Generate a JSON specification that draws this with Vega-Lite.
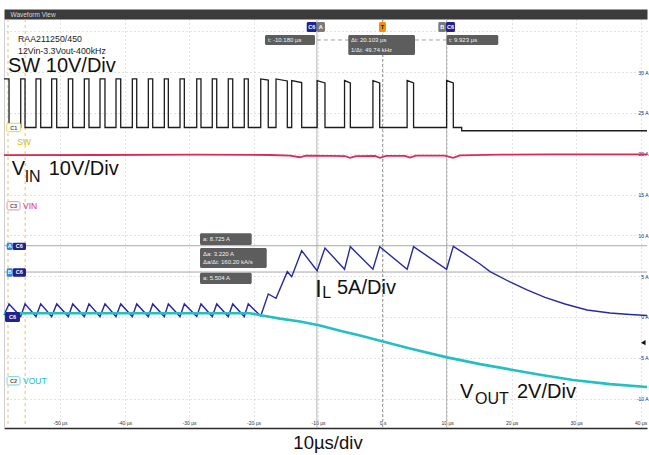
{
"$schema": "https://vega.github.io/schema/vega-lite/v6.json",
"width": 643, "height": 409,
"autosize": {"type": "none"},
"padding": {"left": 4, "top": 19, "right": 2, "bottom": 27},
"background": "white",
"config": {"view": {"stroke": null}, "font": "Liberation Sans"},
"datasets": {
"sw": [
{"t":-58.68,"v":11.9},{"t":-57.90,"v":11.9},{"t":-57.90,"v":0},
{"t":-56.09,"v":0},{"t":-56.09,"v":11.9},{"t":-55.42,"v":11.9},{"t":-55.42,"v":0},
{"t":-53.72,"v":0},{"t":-53.72,"v":11.9},{"t":-52.99,"v":11.9},{"t":-52.99,"v":0},
{"t":-51.29,"v":0},{"t":-51.29,"v":11.9},{"t":-50.51,"v":11.9},{"t":-50.51,"v":0},
{"t":-48.71,"v":0},{"t":-48.71,"v":11.9},{"t":-48.03,"v":11.9},{"t":-48.03,"v":0},
{"t":-46.23,"v":0},{"t":-46.23,"v":11.9},{"t":-45.51,"v":11.9},{"t":-45.51,"v":0},
{"t":-43.80,"v":0},{"t":-43.80,"v":11.9},{"t":-43.03,"v":11.9},{"t":-43.03,"v":0},
{"t":-41.32,"v":0},{"t":-41.32,"v":11.9},{"t":-40.59,"v":11.9},{"t":-40.59,"v":0},
{"t":-38.79,"v":0},{"t":-38.79,"v":11.9},{"t":-38.11,"v":11.9},{"t":-38.11,"v":0},
{"t":-36.31,"v":0},{"t":-36.31,"v":11.9},{"t":-35.63,"v":11.9},{"t":-35.63,"v":0},
{"t":-33.83,"v":0},{"t":-33.83,"v":11.9},{"t":-33.21,"v":11.9},{"t":-33.21,"v":0},
{"t":-31.40,"v":0},{"t":-31.40,"v":11.9},{"t":-30.73,"v":11.9},{"t":-30.73,"v":0},
{"t":-28.81,"v":0},{"t":-28.81,"v":11.9},{"t":-28.15,"v":11.9},{"t":-28.15,"v":0},
{"t":-26.40,"v":0},{"t":-26.40,"v":11.9},{"t":-25.71,"v":11.9},{"t":-25.71,"v":0},
{"t":-23.92,"v":0},{"t":-23.92,"v":11.9},{"t":-23.23,"v":11.9},{"t":-23.23,"v":0},
{"t":-21.44,"v":0},{"t":-21.44,"v":11.9},{"t":-20.82,"v":11.9},{"t":-20.82,"v":0},
{"t":-18.89,"v":0},{"t":-18.89,"v":11.9},{"t":-17.72,"v":11.6},{"t":-17.72,"v":0},
{"t":-16.52,"v":0},{"t":-16.52,"v":11.9},{"t":-14.77,"v":11.4},{"t":-14.77,"v":0},
{"t":-14.09,"v":0},{"t":-14.09,"v":11.5},{"t":-12.54,"v":11.0},{"t":-12.54,"v":0},
{"t":-10.15,"v":0},{"t":-10.15,"v":11.5},{"t":-8.93,"v":10.9},{"t":-8.93,"v":0},
{"t":-5.90,"v":0},{"t":-5.90,"v":11.5},{"t":-5.00,"v":10.9},{"t":-5.00,"v":0},
{"t":-1.50,"v":0},{"t":-1.50,"v":11.5},{"t":-0.45,"v":10.9},{"t":-0.45,"v":0},
{"t":3.80,"v":0},{"t":3.80,"v":11.5},{"t":4.80,"v":10.9},{"t":4.80,"v":0},
{"t":9.92,"v":0},{"t":9.92,"v":11.5},{"t":10.96,"v":10.9},{"t":10.96,"v":0},
{"t":12.26,"v":0},{"t":12.26,"v":-0.8},{"t":40.98,"v":-0.8}
],
"il": [
{"t":-58.68,"a":0.25},{"t":-57.90,"a":1.6},{"t":-56.09,"a":0.05},{"t":-55.42,"a":1.6},
{"t":-53.72,"a":0.05},{"t":-52.99,"a":1.6},{"t":-51.29,"a":0.05},{"t":-50.51,"a":1.6},
{"t":-48.71,"a":0.05},{"t":-48.03,"a":1.6},{"t":-46.23,"a":0.05},{"t":-45.51,"a":1.6},
{"t":-43.80,"a":0.05},{"t":-43.03,"a":1.6},{"t":-41.32,"a":0.05},{"t":-40.59,"a":1.6},
{"t":-38.79,"a":0.05},{"t":-38.11,"a":1.6},{"t":-36.31,"a":0.05},{"t":-35.63,"a":1.6},
{"t":-33.83,"a":0.05},{"t":-33.21,"a":1.6},{"t":-31.40,"a":0.05},{"t":-30.73,"a":1.6},
{"t":-28.81,"a":0.05},{"t":-28.15,"a":1.6},{"t":-26.40,"a":0.05},{"t":-25.71,"a":1.6},
{"t":-23.92,"a":0.05},{"t":-23.23,"a":1.6},{"t":-21.44,"a":0.05},{"t":-20.82,"a":1.6},
{"t":-18.89,"a":0.12},{"t":-17.72,"a":2.82},{"t":-16.52,"a":2.29},{"t":-14.77,"a":5.55},
{"t":-14.09,"a":4.94},{"t":-12.54,"a":8.12},{"t":-10.15,"a":5.67},{"t":-8.93,"a":8.45},
{"t":-5.90,"a":5.84},{"t":-5.00,"a":8.61},{"t":-1.50,"a":5.84},{"t":-0.45,"a":8.61},
{"t":3.80,"a":5.84},{"t":4.80,"a":8.61},{"t":9.92,"a":5.84},{"t":10.96,"a":8.65},
{"t":12.77,"a":7.72},{"t":15.10,"a":6.49},{"t":16.65,"a":5.55},{"t":19.75,"a":4.29},
{"t":22.38,"a":3.31},{"t":25.17,"a":2.39},{"t":28.27,"a":1.59},{"t":31.68,"a":0.86},
{"t":35.25,"a":0.49},{"t":38.35,"a":0.31},{"t":40.98,"a":0.18}
],
"vin": [
{"t":-58.68,"v":11.95},{"t":-43.80,"v":12.0},{"t":-28.89,"v":12.1},{"t":-20.55,"v":12.05},
{"t":-17.45,"v":12.0},{"t":-14.35,"v":11.85},{"t":-12.84,"v":11.45},{"t":-11.87,"v":11.85},
{"t":-8.15,"v":11.8},{"t":-5.83,"v":11.75},{"t":-5.05,"v":11.3},{"t":-4.12,"v":11.75},
{"t":-1.18,"v":11.8},{"t":-0.40,"v":11.3},{"t":0.53,"v":11.8},{"t":3.47,"v":11.8},
{"t":4.24,"v":11.35},{"t":5.18,"v":11.85},{"t":9.67,"v":11.85},{"t":10.91,"v":11.3},
{"t":12.0,"v":11.9},{"t":18.2,"v":12.1},{"t":25.95,"v":12.15},{"t":40.98,"v":12.15}
],
"vout": [
{"t":-58.68,"v":3.30},{"t":-20.55,"v":3.30},{"t":-18.69,"v":3.19},{"t":-15.90,"v":3.04},
{"t":-12.80,"v":2.90},{"t":-9.70,"v":2.70},{"t":-6.60,"v":2.45},{"t":-3.50,"v":2.21},
{"t":0.06,"v":1.92},{"t":4.25,"v":1.57},{"t":9.98,"v":1.14},{"t":15.10,"v":0.81},
{"t":19.75,"v":0.55},{"t":24.40,"v":0.29},{"t":29.51,"v":0.03},{"t":35.25,"v":-0.17},
{"t":40.98,"v":-0.31}
],
"boxes": [
{"t":-18.23,"t2":-10.48,"a":34.54,"a2":33.32,"kind":"readout"},
{"t":-5.32,"t2":5.02,"a":34.54,"a2":32.09,"kind":"readout"},
{"t":9.93,"t2":17.93,"a":34.54,"a2":33.32,"kind":"readout"},
{"t":-28.30,"t2":-20.29,"a":10.25,"a2":8.82,"kind":"readout"},
{"t":-28.30,"t2":-17.96,"a":8.45,"a2":6.0,"kind":"readout"},
{"t":-28.30,"t2":-20.29,"a":5.43,"a2":4.04,"kind":"readout"},
{"t":-11.76,"t2":-10.21,"a":36.13,"a2":34.91,"kind":"c6"},
{"t":9.83,"t2":11.22,"a":36.13,"a2":34.91,"kind":"c6"},
{"t":-57.33,"t2":-55.27,"a":9.10,"a2":8.21,"kind":"c6"},
{"t":-57.33,"t2":-55.27,"a":5.97,"a2":4.94,"kind":"c6"},
{"t":-58.52,"t2":-56.2,"a":0.61,"a2":-0.61,"kind":"c6"},
{"t":-10.21,"t2":-8.93,"a":36.13,"a2":34.91,"kind":"tag"},
{"t":8.63,"t2":9.83,"a":36.13,"a2":34.91,"kind":"tag"},
{"t":-58.26,"t2":-57.33,"a":9.10,"a2":8.21,"kind":"ab"},
{"t":-58.26,"t2":-57.33,"a":5.97,"a2":4.94,"kind":"ab"},
{"t":-0.56,"t2":0.53,"a":36.13,"a2":34.91,"kind":"trig"}
],
"outline": [
{"t":-58.26,"t2":-56.09,"a":23.73,"a2":22.70,"ch":"SW"},
{"t":-58.21,"t2":-56.2,"a":14.12,"a2":13.11,"ch":"VIN"},
{"t":-58.21,"t2":-56.2,"a":-7.31,"a2":-8.33,"ch":"VOUT"}
],
"tagtext": [
{"t":-10.985,"a":35.52,"label":"C6","kind":"c6"},
{"t":-9.57,"a":35.52,"label":"A","kind":"tag"},
{"t":9.23,"a":35.52,"label":"B","kind":"tag"},
{"t":10.525,"a":35.52,"label":"C6","kind":"c6"},
{"t":-0.015,"a":35.52,"label":"T","kind":"trig"},
{"t":-57.795,"a":8.655,"label":"A","kind":"ab"},
{"t":-56.3,"a":8.655,"label":"C6","kind":"c6"},
{"t":-57.795,"a":5.455,"label":"B","kind":"ab"},
{"t":-56.3,"a":5.455,"label":"C6","kind":"c6"},
{"t":-57.36,"a":0,"label":"C6","kind":"c6"},
{"t":-57.17,"a":23.2,"label":"C1","kind":"outline"},
{"t":-57.2,"a":13.6,"label":"C3","kind":"outline"},
{"t":-57.2,"a":-7.82,"label":"C2","kind":"outline"}
],
"readtext": [
{"t":-17.76,"a":33.93,"label":"t: -10.180 µs"},
{"t":-4.90,"a":33.87,"label":"Δt: 20.103 µs"},
{"t":-4.90,"a":32.70,"label":"1/Δt: 49.74 kHz"},
{"t":10.29,"a":33.93,"label":"t: 9.923 µs"},
{"t":-27.84,"a":9.55,"label":"a: 8.725 A"},
{"t":-27.84,"a":7.72,"label":"Δa: 3.220 A"},
{"t":-27.84,"a":6.74,"label":"Δa/Δt: 160.20 kA/s"},
{"t":-27.84,"a":4.72,"label":"a: 5.504 A"}
],
"big": [
{"t":-58.06,"a":29.98,"label":"SW 10V/Div"},
{"t":-57.49,"a":17.39,"label":"V"},
{"t":-51.75,"a":17.39,"label":"10V/Div"},
{"t":-7.07,"a":2.82,"label":"5A/Div"},
{"t":12.0,"a":-9.92,"label":"V"},
{"t":20.83,"a":-9.92,"label":"2V/Div"}
],
"bigI": [{"t":-10.43,"a":2.49,"label":"I"}],
"sub": [
{"t":-55.48,"a":16.57,"label":"IN"},
{"t":14.32,"a":-10.66,"label":"OUT"},
{"t":-9.35,"a":2.33,"label":"L"}
],
"hdr": [
{"t":-56.51,"a":33.64,"label":"RAA211250/450"},
{"t":-56.51,"a":32.26,"label":"12Vin-3.3Vout-400kHz"}
],
"chname": [
{"t":-56.62,"a":21.07,"label":"SW","ch":"SW"},
{"t":-55.73,"a":13.17,"label":"VIN","ch":"VIN"},
{"t":-55.73,"a":-8.27,"label":"VOUT","ch":"VOUT"}
]
},
"resolve": {"scale": {"y": "independent", "color": "independent", "fill": "independent", "stroke": "independent"}, "axis": {"x": "independent", "y": "independent"}},
"layer": [
{"data": {"values": [{"t": -58.06}, {"t": -55.4}]},
 "mark": {"type": "rule", "color": "#f0c445", "strokeWidth": 1, "strokeDash": [3, 3]},
 "encoding": {"x": {"field": "t", "type": "quantitative", "scale": {"domain": [-58.68, 40.98], "nice": false, "zero": false}, "axis": null}}},
{"data": {"values": [{"t": -10.18}, {"t": 9.923}]},
 "mark": {"type": "rule", "color": "#b4b4b4", "strokeWidth": 1},
 "encoding": {"x": {"field": "t", "type": "quantitative", "scale": {"domain": [-58.68, 40.98], "nice": false, "zero": false}, "axis": null}}},
{"data": {"values": [{"t": 0}]},
 "mark": {"type": "rule", "color": "#9a9a9a", "strokeWidth": 1, "strokeDash": [3, 2]},
 "encoding": {"x": {"field": "t", "type": "quantitative", "scale": {"domain": [-58.68, 40.98], "nice": false, "zero": false}, "axis": null}}},
{"data": {"values": [{"a": 8.725}, {"a": 5.504}]},
 "mark": {"type": "rule", "color": "#a8a8a8", "strokeWidth": 1},
 "encoding": {"y": {"field": "a", "type": "quantitative", "scale": {"domain": [-13.6, 36.5], "nice": false, "zero": false}, "axis": null}}},
{"data": {"values": [{"t": -10.18, "t2": 9.923, "a": 33.93}]},
 "mark": {"type": "rule", "color": "#a0a0a0", "strokeWidth": 1, "strokeDash": [4, 3]},
 "encoding": {"x": {"field": "t", "type": "quantitative", "scale": {"domain": [-58.68, 40.98], "nice": false, "zero": false}, "axis": null},
  "x2": {"field": "t2"},
  "y": {"field": "a", "type": "quantitative", "scale": {"domain": [-13.6, 36.5], "nice": false, "zero": false}, "axis": null}}},
{"data": {"name": "sw"},
 "mark": {"type": "line", "color": "#1c1c1c", "strokeWidth": 1.3},
 "encoding": {"x": {"field": "t", "type": "quantitative", "scale": {"domain": [-58.68, 40.98], "nice": false, "zero": false}, "axis": null},
  "y": {"field": "v", "type": "quantitative", "scale": {"domain": [-73.62, 26.58], "nice": false, "zero": false},
   "axis": {"orient": "left", "domain": true, "domainColor": "#cfcfcf", "domainWidth": 1, "labels": false, "ticks": false, "grid": false, "title": null}},
  "order": {"value": null}}},
{"data": {"name": "vin"},
 "mark": {"type": "line", "color": "#dd2a55", "strokeWidth": 1.8},
 "encoding": {"x": {"field": "t", "type": "quantitative", "scale": {"domain": [-58.68, 40.98], "nice": false, "zero": false},
   "axis": {"orient": "top", "offset": 5, "domain": true, "domainWidth": 10, "domainColor": "#3b3b3b", "labels": false, "ticks": false, "grid": false,
    "title": "Waveform View", "titleFontSize": 6.5, "titleFontWeight": "normal", "titleColor": "#d8d8d8", "titleAnchor": "start", "titleAlign": "left", "titleX": 6, "titleY": 2.5, "titleBaseline": "alphabetic", "titlePadding": 0}},
  "y": {"field": "v", "type": "quantitative", "scale": {"domain": [-54.88, 45.32], "nice": false, "zero": false}, "axis": null}}},
{"data": {"name": "il"},
 "mark": {"type": "line", "color": "#2a2aa0", "strokeWidth": 1.4},
 "encoding": {"x": {"field": "t", "type": "quantitative", "scale": {"domain": [-58.68, 40.98], "nice": false, "zero": false},
   "axis": {"orient": "bottom", "values": [-50, -40, -30, -20, -10, 0, 10, 20, 30, 40],
    "labelExpr": "datum.value == 0 ? '0 s' : datum.value + ' µs'", "labelFontSize": 5, "labelColor": "#333333", "labelPadding": -8, "labelFlush": false,
    "ticks": false, "tickSize": 0, "domain": true, "domainColor": "#2b2b2b", "domainWidth": 1.5,
    "grid": true, "gridColor": "#c4c4c4", "gridDash": [1, 3], "gridWidth": 1,
    "title": "10µs/div", "titleFontSize": 18.5, "titleFontWeight": "normal", "titleColor": "#111111", "titleFont": "Liberation Sans",
    "titleAlign": "center", "titleAnchor": "start", "titleX": 323.5, "titleY": 20, "titleBaseline": "alphabetic"}},
  "y": {"field": "a", "type": "quantitative", "scale": {"domain": [-13.6, 36.5], "nice": false, "zero": false},
   "axis": {"orient": "right", "values": [-10, -5, 0, 5, 10, 15, 20, 25, 30, 35],
    "labelExpr": "datum.value == 35 ? '' : datum.value + ' A'", "labelFontSize": 5, "labelColor": "#2a2a6a", "labelAlign": "right", "labelBaseline": "middle", "labelPadding": 1,
    "ticks": false, "tickSize": 0, "domain": false, "grid": true, "gridColor": "#c4c4c4", "gridDash": [1, 3], "gridWidth": 1, "title": null}}}},
{"data": {"name": "vout"},
 "mark": {"type": "line", "color": "#24bfc3", "strokeWidth": 2.6},
 "encoding": {"x": {"field": "t", "type": "quantitative", "scale": {"domain": [-58.68, 40.98], "nice": false, "zero": false}, "axis": null},
  "y": {"field": "v", "type": "quantitative", "scale": {"domain": [-2.32, 17.72], "nice": false, "zero": false}, "axis": null}}},
{"data": {"name": "boxes"},
 "mark": {"type": "rect", "cornerRadius": 1.5},
 "encoding": {"x": {"field": "t", "type": "quantitative", "scale": {"domain": [-58.68, 40.98], "nice": false, "zero": false}, "axis": null},
  "x2": {"field": "t2"},
  "y": {"field": "a", "type": "quantitative", "scale": {"domain": [-13.6, 36.5], "nice": false, "zero": false}, "axis": null},
  "y2": {"field": "a2"},
  "fill": {"field": "kind", "type": "nominal", "scale": {"domain": ["readout", "c6", "tag", "ab", "trig"], "range": ["#5d5d5d", "#1f238f", "#7b7b7b", "#3a86d6", "#f39200"]}, "legend": null}}},
{"data": {"name": "outline"},
 "mark": {"type": "rect", "fill": "white", "strokeWidth": 1, "cornerRadius": 1.5},
 "encoding": {"x": {"field": "t", "type": "quantitative", "scale": {"domain": [-58.68, 40.98], "nice": false, "zero": false}, "axis": null},
  "x2": {"field": "t2"},
  "y": {"field": "a", "type": "quantitative", "scale": {"domain": [-13.6, 36.5], "nice": false, "zero": false}, "axis": null},
  "y2": {"field": "a2"},
  "stroke": {"field": "ch", "type": "nominal", "scale": {"domain": ["SW", "VIN", "VOUT"], "range": ["#e8d24a", "#f08aa8", "#6fd8dc"]}, "legend": null}}},
{"data": {"name": "tagtext"},
 "mark": {"type": "text", "align": "center", "baseline": "middle", "fontSize": 5.5, "fontWeight": "bold", "font": "Liberation Sans"},
 "encoding": {"x": {"field": "t", "type": "quantitative", "scale": {"domain": [-58.68, 40.98], "nice": false, "zero": false}, "axis": null},
  "y": {"field": "a", "type": "quantitative", "scale": {"domain": [-13.6, 36.5], "nice": false, "zero": false}, "axis": null},
  "text": {"field": "label"},
  "color": {"field": "kind", "type": "nominal", "scale": {"domain": ["c6", "tag", "ab", "trig", "outline"], "range": ["#ffffff", "#ffffff", "#ffffff", "#111111", "#555555"]}, "legend": null}}},
{"data": {"name": "readtext"},
 "mark": {"type": "text", "align": "left", "baseline": "middle", "fontSize": 6, "color": "#f0f0f0", "font": "Liberation Sans"},
 "encoding": {"x": {"field": "t", "type": "quantitative", "scale": {"domain": [-58.68, 40.98], "nice": false, "zero": false}, "axis": null},
  "y": {"field": "a", "type": "quantitative", "scale": {"domain": [-13.6, 36.5], "nice": false, "zero": false}, "axis": null},
  "text": {"field": "label"}}},
{"data": {"name": "big"},
 "mark": {"type": "text", "align": "left", "baseline": "alphabetic", "fontSize": 20, "color": "#111111", "font": "Liberation Sans"},
 "encoding": {"x": {"field": "t", "type": "quantitative", "scale": {"domain": [-58.68, 40.98], "nice": false, "zero": false}, "axis": null},
  "y": {"field": "a", "type": "quantitative", "scale": {"domain": [-13.6, 36.5], "nice": false, "zero": false}, "axis": null},
  "text": {"field": "label"}}},
{"data": {"name": "bigI"},
 "mark": {"type": "text", "align": "left", "baseline": "alphabetic", "fontSize": 23, "color": "#111111", "font": "Liberation Sans"},
 "encoding": {"x": {"field": "t", "type": "quantitative", "scale": {"domain": [-58.68, 40.98], "nice": false, "zero": false}, "axis": null},
  "y": {"field": "a", "type": "quantitative", "scale": {"domain": [-13.6, 36.5], "nice": false, "zero": false}, "axis": null},
  "text": {"field": "label"}}},
{"data": {"name": "sub"},
 "mark": {"type": "text", "align": "left", "baseline": "alphabetic", "fontSize": 16, "color": "#111111", "font": "Liberation Sans"},
 "encoding": {"x": {"field": "t", "type": "quantitative", "scale": {"domain": [-58.68, 40.98], "nice": false, "zero": false}, "axis": null},
  "y": {"field": "a", "type": "quantitative", "scale": {"domain": [-13.6, 36.5], "nice": false, "zero": false}, "axis": null},
  "text": {"field": "label"}}},
{"data": {"name": "hdr"},
 "mark": {"type": "text", "align": "left", "baseline": "alphabetic", "fontSize": 8.8, "color": "#222222", "font": "Liberation Sans"},
 "encoding": {"x": {"field": "t", "type": "quantitative", "scale": {"domain": [-58.68, 40.98], "nice": false, "zero": false}, "axis": null},
  "y": {"field": "a", "type": "quantitative", "scale": {"domain": [-13.6, 36.5], "nice": false, "zero": false}, "axis": null},
  "text": {"field": "label"}}},
{"data": {"name": "chname"},
 "mark": {"type": "text", "align": "left", "baseline": "alphabetic", "fontSize": 8.5, "font": "Liberation Sans"},
 "encoding": {"x": {"field": "t", "type": "quantitative", "scale": {"domain": [-58.68, 40.98], "nice": false, "zero": false}, "axis": null},
  "y": {"field": "a", "type": "quantitative", "scale": {"domain": [-13.6, 36.5], "nice": false, "zero": false}, "axis": null},
  "text": {"field": "label"},
  "color": {"field": "ch", "type": "nominal", "scale": {"domain": ["SW", "VIN", "VOUT"], "range": ["#d4bf00", "#e0306a", "#22bcc2"]}, "legend": null}}},
{"data": {"values": [{"t": 40.4, "a": -3.15}]},
 "mark": {"type": "point", "shape": "triangle-left", "filled": true, "color": "#111111", "size": 28, "opacity": 1},
 "encoding": {"x": {"field": "t", "type": "quantitative", "scale": {"domain": [-58.68, 40.98], "nice": false, "zero": false}, "axis": null},
  "y": {"field": "a", "type": "quantitative", "scale": {"domain": [-13.6, 36.5], "nice": false, "zero": false}, "axis": null}}}
]
}
